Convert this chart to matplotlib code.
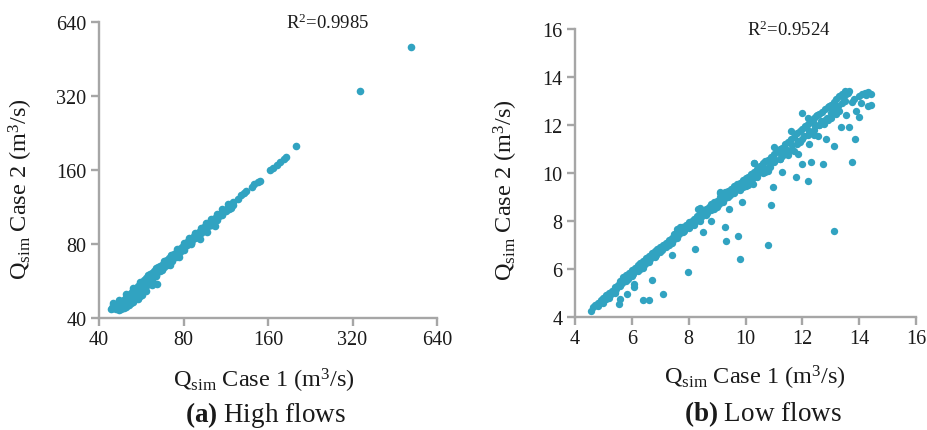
import matplotlib
matplotlib.use("Agg")
import matplotlib.pyplot as plt

# fonts: serif look like the paper figure
plt.rcParams['font.family'] = ['Liberation Serif', 'DejaVu Serif']
plt.rcParams['mathtext.fontset'] = 'custom'
plt.rcParams['mathtext.rm'] = 'Liberation Serif'
plt.rcParams['mathtext.it'] = 'Liberation Serif:italic'
plt.rcParams['mathtext.bf'] = 'Liberation Serif:bold'

# ---- data (a) high flows, m3/s ----
high_case1 = [44.5, 45, 45.5, 46, 45, 46, 47, 47, 48, 48, 46.5, 47.5, 49, 49, 50, 50, 51, 51,
              52, 52, 53, 53, 54, 54, 55, 55, 56, 56, 57, 57, 58, 58, 59, 59, 60, 60, 61, 61,
              62, 62, 63, 63, 64, 64, 65, 65, 66, 67, 67, 68, 69, 69, 70, 71, 72, 72, 73, 74,
              75, 76, 77, 78, 78, 79, 80, 81, 82, 83, 84, 85, 86, 87, 88, 89, 90, 91, 92, 93,
              94, 95, 96, 97, 98, 100, 102, 104, 106, 108, 110, 112, 114, 115, 117, 118,
              64.4, 91.6, 97, 49, 51, 54, 57, 60, 75, 85, 47, 48.5, 50.5, 52.5, 55.5, 58.5,
              46, 47, 48, 49, 50, 51, 52, 53, 54, 55, 56, 57, 58, 59, 60, 62, 64, 66, 68, 70,
              72, 74, 76, 80, 84, 88, 92, 96, 100, 104, 110, 116, 120,
              45, 47, 50, 53, 56, 60, 64, 68, 72, 76, 80, 84, 88, 92, 96, 100, 105, 110, 115, 120,
              125, 128, 131, 134, 140, 143, 147, 150, 163, 167, 172, 177, 182, 186, 201, 340, 516]
high_case2 = [43.8, 44.2, 44.0, 44.5, 45.0, 45.5, 45.2, 46.2, 45.0, 46.5, 44.0, 44.3, 46.0, 47.5,
              47.0, 48.5, 48.2, 49.5, 49.0, 50.5, 50.5, 51.8, 51.0, 52.8, 52.5, 54.0, 53.5, 55.0,
              55.5, 56.2, 56.0, 57.3, 57.0, 58.2, 58.5, 59.3, 59.0, 60.3, 60.5, 61.2, 61.0, 62.3,
              62.5, 63.3, 63.5, 64.2, 64.8, 66.0, 65.0, 67.0, 68.0, 66.8, 69.0, 70.0, 71.0, 69.5,
              72.0, 73.0, 73.5, 75.0, 76.0, 76.5, 74.5, 78.0, 79.0, 80.0, 80.5, 82.0, 82.0, 84.0,
              84.5, 86.0, 86.5, 87.5, 89.0, 89.5, 90.5, 92.0, 92.5, 93.5, 94.0, 95.5, 97.0, 98.5,
              100.5, 102.5, 104.5, 106.0, 108.0, 110.0, 110.5, 113.0, 115.0, 112.5,
              55, 84, 89.5, 44.5, 46, 49.5, 53, 56, 71, 81, 43.5, 44.5, 46.8, 48.8, 51.5, 54.5,
              43.5, 44.0, 44.2, 44.8, 45.5, 46.5, 47.5, 48.5, 49.8, 50.5, 51.5, 52.5, 54.0, 55.0,
              55.5, 58.0, 60.0, 62.0, 64.5, 66.5, 68.5, 70.5, 73.0, 77.0, 80.5, 85.0, 88.5, 92.0,
              96.0, 100.0, 105.0, 111.0, 115.0,
              46.0, 47.5, 50.0, 53.0, 56.0, 60.0, 64.0, 68.0, 72.3, 76.5, 80.5, 85.0, 89.0, 93.0,
              97.0, 101.0, 106.0, 111.0, 116.0, 119.0,
              122, 126, 129, 132, 137, 140, 143, 144, 160, 163, 168, 173, 178, 181, 200, 335, 506]
# middle of the dense band and its ragged lower edge
high_mid1 = [44, 45, 46, 47, 48, 49, 50, 51, 52, 53, 54, 55, 56, 57, 58, 59, 61, 63, 65, 67,
             69, 71, 73, 75, 77, 79, 82, 86, 90, 94, 98, 102, 107, 113,
             48, 50, 52, 55, 58, 62]
high_mid2 = [43.5, 43.8, 44.8, 45.6, 46.3, 47.2, 48.0, 49.0, 50.0, 51.0, 52.0, 52.8, 54.0, 55.0,
             55.8, 56.8, 58.8, 60.8, 62.8, 64.6, 66.6, 68.5, 70.5, 72.5, 74.5, 76.3, 79.2, 83.0,
             87.0, 90.8, 94.8, 98.5, 103.5, 109.0,
             43.5, 44.5, 46.0, 49.0, 52.5, 56.5]
high_low1 = [48, 50, 52, 54, 56, 58, 60, 62, 64, 67, 70, 73, 76, 80, 85, 90, 95, 100, 105, 110,
             51, 53, 55, 57, 59,
             52.5, 56, 71.5, 76.9, 84.8, 47, 49, 51, 53, 55, 57, 59, 62, 104]
high_low2 = [44.2, 45.5, 47.3, 49.0, 51.0, 53.0, 55.0, 57.2, 59.5, 62.5, 65.5, 68.5, 71.5, 75.5,
             80.5, 85.5, 90.5, 95.5, 100.5, 105.5,
             46.0, 48.0, 50.0, 52.0, 54.0,
             46.3, 49.2, 66.0, 71.1, 80.0, 43.3, 44.0, 45.0, 46.5, 48.0, 49.8, 51.5, 54.5, 95.0]

# ---- data (b) low flows, m3/s ----
low_case1 = [4.55, 4.7, 4.8, 4.9, 5.0, 5.1, 5.2, 5.3, 5.4, 5.5, 5.6, 5.7, 5.8, 5.9, 6.0, 6.1, 6.2,
             6.3, 6.4, 6.5, 6.6, 6.7, 6.8, 6.9, 7.0, 7.1, 7.2, 7.3, 7.4, 7.5, 7.6, 7.7, 7.8, 7.9,
             8.0, 8.1, 8.2, 8.3, 8.4, 8.5, 8.6, 8.7, 8.8, 8.9, 9.0, 9.1, 9.2, 9.3, 9.4, 9.5, 9.6,
             9.7, 9.8, 9.9, 10.0, 10.1, 10.2, 10.3, 10.4, 10.5, 10.6, 10.7, 10.8, 10.9, 11.0, 11.1,
             11.2, 11.3, 11.4, 11.5, 11.6, 11.7, 11.8, 11.9, 12.0, 12.1, 12.2, 12.3, 12.4, 12.5,
             12.6, 12.7, 12.8, 12.9, 13.0, 13.1, 13.2, 13.3, 13.4, 13.5,
             4.8, 5.0, 5.2, 5.4, 5.6, 5.8, 6.0, 6.2, 6.4, 6.6, 6.8, 7.0, 7.2, 7.4, 7.6, 7.8, 8.0,
             8.2, 8.4, 8.6, 8.8, 9.0, 9.2, 9.4, 9.6, 9.8, 10.0, 10.2, 10.4, 10.6, 10.8, 11.0, 11.2,
             11.4, 11.6, 11.8, 12.0, 12.2, 12.4, 12.6, 12.8, 13.0, 13.2, 13.4,
             13.1, 10.79, 9.8, 9.74, 9.31, 9.27, 10.89, 7.96, 7.08, 6.59, 6.38, 6.7, 7.43, 8.22,
             8.49, 8.8, 9.41, 9.88, 10.96, 11.78, 12.19, 13.73, 13.85, 13.1, 12.71, 12.3, 12.0,
             11.3, 13.99, 13.65, 13.35, 14.3, 14.4, 14.1, 14.3, 13.65, 13.53, 12.95, 13.18, 13.53,
             13.76, 12.77, 12.48, 12.36, 12.12, 12.25, 12.54, 12.83, 11.72, 11.84, 11.49, 11.2,
             10.85, 10.67, 10.26, 5.54, 5.6, 5.83, 6.06, 6.06, 5.42, 9.27, 8.34, 7.7, 14.0, 14.2,
             13.9, 13.6, 13.8, 14.4, 12.0, 10.3, 9.1, 7.6,
             9.1, 10.3, 8.4, 7.75, 11.6, 12.2, 11.0, 10.6, 11.3, 11.9, 12.6, 13.0, 9.6, 9.9,
             8.9, 7.3, 6.8, 6.3, 5.9, 5.1, 10.1, 10.8, 11.5, 12.4, 12.9, 13.3, 13.5, 14.05, 14.25]
low_case2 = [4.25, 4.5, 4.6, 4.7, 4.8, 4.9, 5.0, 5.1, 5.25, 5.35, 5.5, 5.65, 5.75, 5.85, 5.95, 6.05,
             6.15, 6.25, 6.35, 6.45, 6.55, 6.65, 6.75, 6.85, 6.9, 7.0, 7.1, 7.2, 7.3, 7.45, 7.55,
             7.7, 7.75, 7.85, 7.95, 8.0, 8.1, 8.2, 8.3, 8.4, 8.5, 8.6, 8.7, 8.8, 8.85, 9.0, 9.05,
             9.15, 9.25, 9.35, 9.45, 9.55, 9.6, 9.7, 9.8, 9.85, 9.95, 10.05, 10.15, 10.3, 10.4,
             10.5, 10.55, 10.65, 10.8, 10.9, 11.0, 11.05, 11.2, 11.3, 11.4, 11.5, 11.65, 11.75,
             11.85, 11.95, 12.05, 12.15, 12.3, 12.4, 12.45, 12.55, 12.65, 12.75, 12.85, 12.95,
             13.1, 13.2, 13.3, 13.4,
             4.45, 4.6, 4.8, 5.0, 5.3, 5.5, 5.7, 5.9, 6.05, 6.3, 6.5, 6.7, 6.9, 7.1, 7.3, 7.55,
             7.7, 7.85, 8.0, 8.25, 8.45, 8.6, 8.8, 9.0, 9.15, 9.3, 9.45, 9.65, 9.85, 10.0, 10.2,
             10.45, 10.6, 10.8, 10.95, 11.2, 11.4, 11.6, 11.8, 12.0, 12.2, 12.5, 12.7, 12.9,
             7.6, 6.98, 6.43, 7.37, 7.16, 7.77, 8.65, 5.86, 4.97, 4.72, 4.72, 5.53, 6.57, 6.84,
             7.54, 8.0, 8.48, 8.81, 9.41, 9.83, 9.65, 10.45, 11.42, 11.14, 10.38, 10.45, 10.38,
             10.03, 12.32, 11.9, 11.9, 12.8, 12.83, 13.3, 13.36, 13.43, 13.3, 12.8, 12.46, 12.42,
             12.95, 12.04, 12.39, 12.11, 11.9, 11.21, 11.56, 11.42, 10.93, 10.8, 10.73, 10.59,
             10.24, 10.03, 9.55, 4.55, 4.76, 4.97, 5.39, 5.25, 5.04, 9.2, 8.5, 7.75, 13.2, 13.35,
             12.6, 13.35, 13.1, 13.3, 12.5, 10.4, 9.15, 7.65,
             9.2, 10.4, 8.55, 7.75, 11.75, 12.3, 11.1, 10.2, 10.7, 11.3, 12.0, 12.3, 9.2, 9.4,
             8.5, 7.0, 6.55, 6.0, 5.65, 4.75, 9.5, 10.1, 10.9, 11.6, 12.2, 12.6, 13.0, 12.9, 13.25]
# middle of the band
low_mid1 = [4.65, 4.85, 5.05, 5.25, 5.45, 5.65, 5.85, 6.05, 6.25, 6.45, 6.65, 6.85, 7.05, 7.25,
            7.45, 7.65, 7.85, 8.05, 8.25, 8.45, 8.65, 8.85, 9.05, 9.25, 9.45, 9.65, 9.85, 10.05,
            10.25, 10.45, 10.65, 10.85, 11.05, 11.25, 11.45, 11.65, 11.85, 12.05, 12.25, 12.45,
            12.65, 12.85, 13.05, 13.25, 13.45]
low_mid2 = [4.4, 4.6, 4.75, 4.95, 5.15, 5.4, 5.6, 5.8, 6.0, 6.2, 6.4, 6.6, 6.8, 7.0, 7.2, 7.45,
            7.6, 7.8, 8.0, 8.15, 8.35, 8.55, 8.7, 8.9, 9.1, 9.3, 9.45, 9.6, 9.8, 10.0, 10.2, 10.4,
            10.55, 10.8, 10.95, 11.15, 11.35, 11.55, 11.75, 11.95, 12.15, 12.3, 12.55, 12.8, 13.05]

dot_color = '#31a3c1'
axis_color = '#a6a6a6'
text_color = '#1a1a1a'

fig = plt.figure(figsize=(9.28, 4.31), dpi=100)
ax1 = fig.add_axes([0.1067, 0.2599, 0.3642, 0.6868])
ax2 = fig.add_axes([0.6196, 0.2622, 0.3675, 0.6682])


def style_axes(ax):
    for side in ['top', 'right']:
        ax.spines[side].set_visible(False)
    for side in ['left', 'bottom']:
        ax.spines[side].set_color(axis_color)
        ax.spines[side].set_linewidth(1.7)
    ax.tick_params(axis='both', which='major', direction='out', length=6, width=1.7,
                   color=axis_color, labelsize=14.5, labelcolor=text_color, pad=3)
    ax.tick_params(axis='both', which='minor', length=0)


# (a) high flows, log2 axes
ax1.scatter(high_case1 + high_mid1 + high_low1, high_case2 + high_mid2 + high_low2, s=30,
            marker='o', color=dot_color, linewidths=0)
ax1.set_xscale('log', base=2)
ax1.set_yscale('log', base=2)
ticks_a = [40, 80, 160, 320, 640]
ax1.set_xlim(40, 640)
ax1.set_ylim(40, 640)
ax1.set_xticks(ticks_a)
ax1.set_yticks(ticks_a)
ax1.set_xticklabels([str(t) for t in ticks_a])
ax1.set_yticklabels([str(t) for t in ticks_a])
ax1.minorticks_off()
style_axes(ax1)
ax1.text(0.677, 1.0, r'R$^2$=0.9985', transform=ax1.transAxes, ha='center', va='center',
         fontsize=13.5, color=text_color)
ax1.set_xlabel(r'Q$_{\mathrm{sim}}$ Case 1 (m$^3$/s)', fontsize=17.5, color=text_color)
ax1.set_ylabel(r'Q$_{\mathrm{sim}}$ Case 2 (m$^3$/s)', fontsize=17.5, color=text_color)
ax1.xaxis.set_label_coords(0.487, -0.163)
ax1.yaxis.set_label_coords(-0.19, 0.44)

# (b) low flows, linear axes
ax2.scatter(low_case1 + low_mid1, low_case2 + low_mid2, s=28, marker='o',
            color=dot_color, linewidths=0)
ticks_b = [4, 6, 8, 10, 12, 14, 16]
ax2.set_xlim(4, 16)
ax2.set_ylim(4, 16)
ax2.set_xticks(ticks_b)
ax2.set_yticks(ticks_b)
style_axes(ax2)
ax2.text(0.627, 1.0, r'R$^2$=0.9524', transform=ax2.transAxes, ha='center', va='center',
         fontsize=13.5, color=text_color)
ax2.set_xlabel(r'Q$_{\mathrm{sim}}$ Case 1 (m$^3$/s)', fontsize=17.5, color=text_color)
ax2.set_ylabel(r'Q$_{\mathrm{sim}}$ Case 2 (m$^3$/s)', fontsize=17.5, color=text_color)
ax2.xaxis.set_label_coords(0.527, -0.16)
ax2.yaxis.set_label_coords(-0.16, 0.445)

# captions
fig.text(0.286, 0.038, r'$\mathbf{(a)}$ High flows', ha='center', va='center', fontsize=19.5,
         color=text_color)
fig.text(0.822, 0.038, r'$\mathbf{(b)}$ Low flows', ha='center', va='center', fontsize=19.5,
         color=text_color)

plt.savefig('out.png', dpi=100)
